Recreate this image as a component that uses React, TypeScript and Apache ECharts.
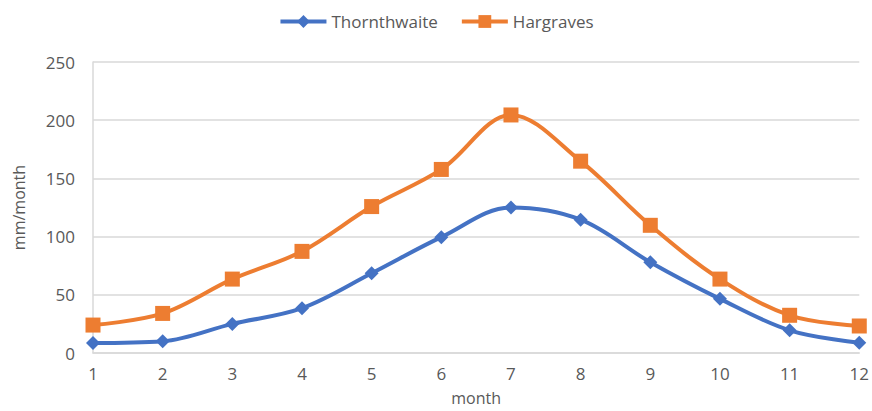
import React, { useEffect, useRef } from "react";
import * as echarts from "echarts";

const months = ["1", "2", "3", "4", "5", "6", "7", "8", "9", "10", "11", "12"];
const thornthwaite = [8.5, 10, 25, 38.5, 68.5, 99.5, 125, 114.5, 78, 46.5, 19.5, 8.8];
const hargraves = [24, 34, 63.5, 87.3, 125.8, 157.7, 204.5, 164.8, 109.7, 63.5, 32.4, 23.2];

const textColor = "#595959";
const font = "Open Sans";

export default function App() {
  const ref = useRef<HTMLDivElement>(null);
  useEffect(() => {
    if (!ref.current) return;
    const chart = echarts.init(ref.current, undefined, { renderer: "svg" });
    chart.setOption({
      animation: false,
      textStyle: { fontFamily: font, color: textColor },
      legend: {
        top: 8,
        left: "center",
        itemWidth: 46,
        itemHeight: 16,
        itemGap: 22,
        lineStyle: { width: 4 },
        textStyle: { fontSize: 17, color: textColor, fontFamily: font },
        data: ["Thornthwaite", "Hargraves"],
      },
      grid: { left: 93, right: 8, top: 62, bottom: 50, containLabel: false },
      xAxis: {
        type: "category",
        data: months,
        boundaryGap: false,
        name: "month",
        nameLocation: "middle",
        nameGap: 37,
        nameTextStyle: { fontSize: 16, color: textColor, fontFamily: font },
        axisLine: { show: true, lineStyle: { color: "#d9d9d9", width: 1.5 } },
        axisTick: { show: false },
        axisLabel: { fontSize: 17, color: textColor, margin: 12, fontFamily: font },
        splitLine: { show: false },
      },
      yAxis: {
        type: "value",
        min: 0,
        max: 250,
        interval: 50,
        name: "mm/month",
        nameLocation: "middle",
        nameGap: 66,
        nameTextStyle: { fontSize: 16, color: textColor, fontFamily: font },
        axisLine: { show: true, lineStyle: { color: "#d9d9d9", width: 1.5 } },
        axisTick: { show: false },
        axisLabel: { fontSize: 17, color: textColor, margin: 18, fontFamily: font },
        splitLine: { show: true, lineStyle: { color: "#d9d9d9", width: 1.5 } },
      },
      series: [
        {
          name: "Thornthwaite",
          type: "line",
          data: thornthwaite,
          smooth: 0.35,
          symbol: "diamond",
          symbolSize: 14,
          lineStyle: { width: 4, color: "#4472C4" },
          itemStyle: { color: "#4472C4" },
        },
        {
          name: "Hargraves",
          type: "line",
          data: hargraves,
          smooth: 0.35,
          symbol: "rect",
          symbolSize: 15,
          lineStyle: { width: 4, color: "#ED7D31" },
          itemStyle: { color: "#ED7D31" },
        },
      ],
    });
    return () => chart.dispose();
  }, []);
  return <div ref={ref} style={{ width: 872, height: 411, position: "absolute", left: 0, top: 0 }} />;
}
